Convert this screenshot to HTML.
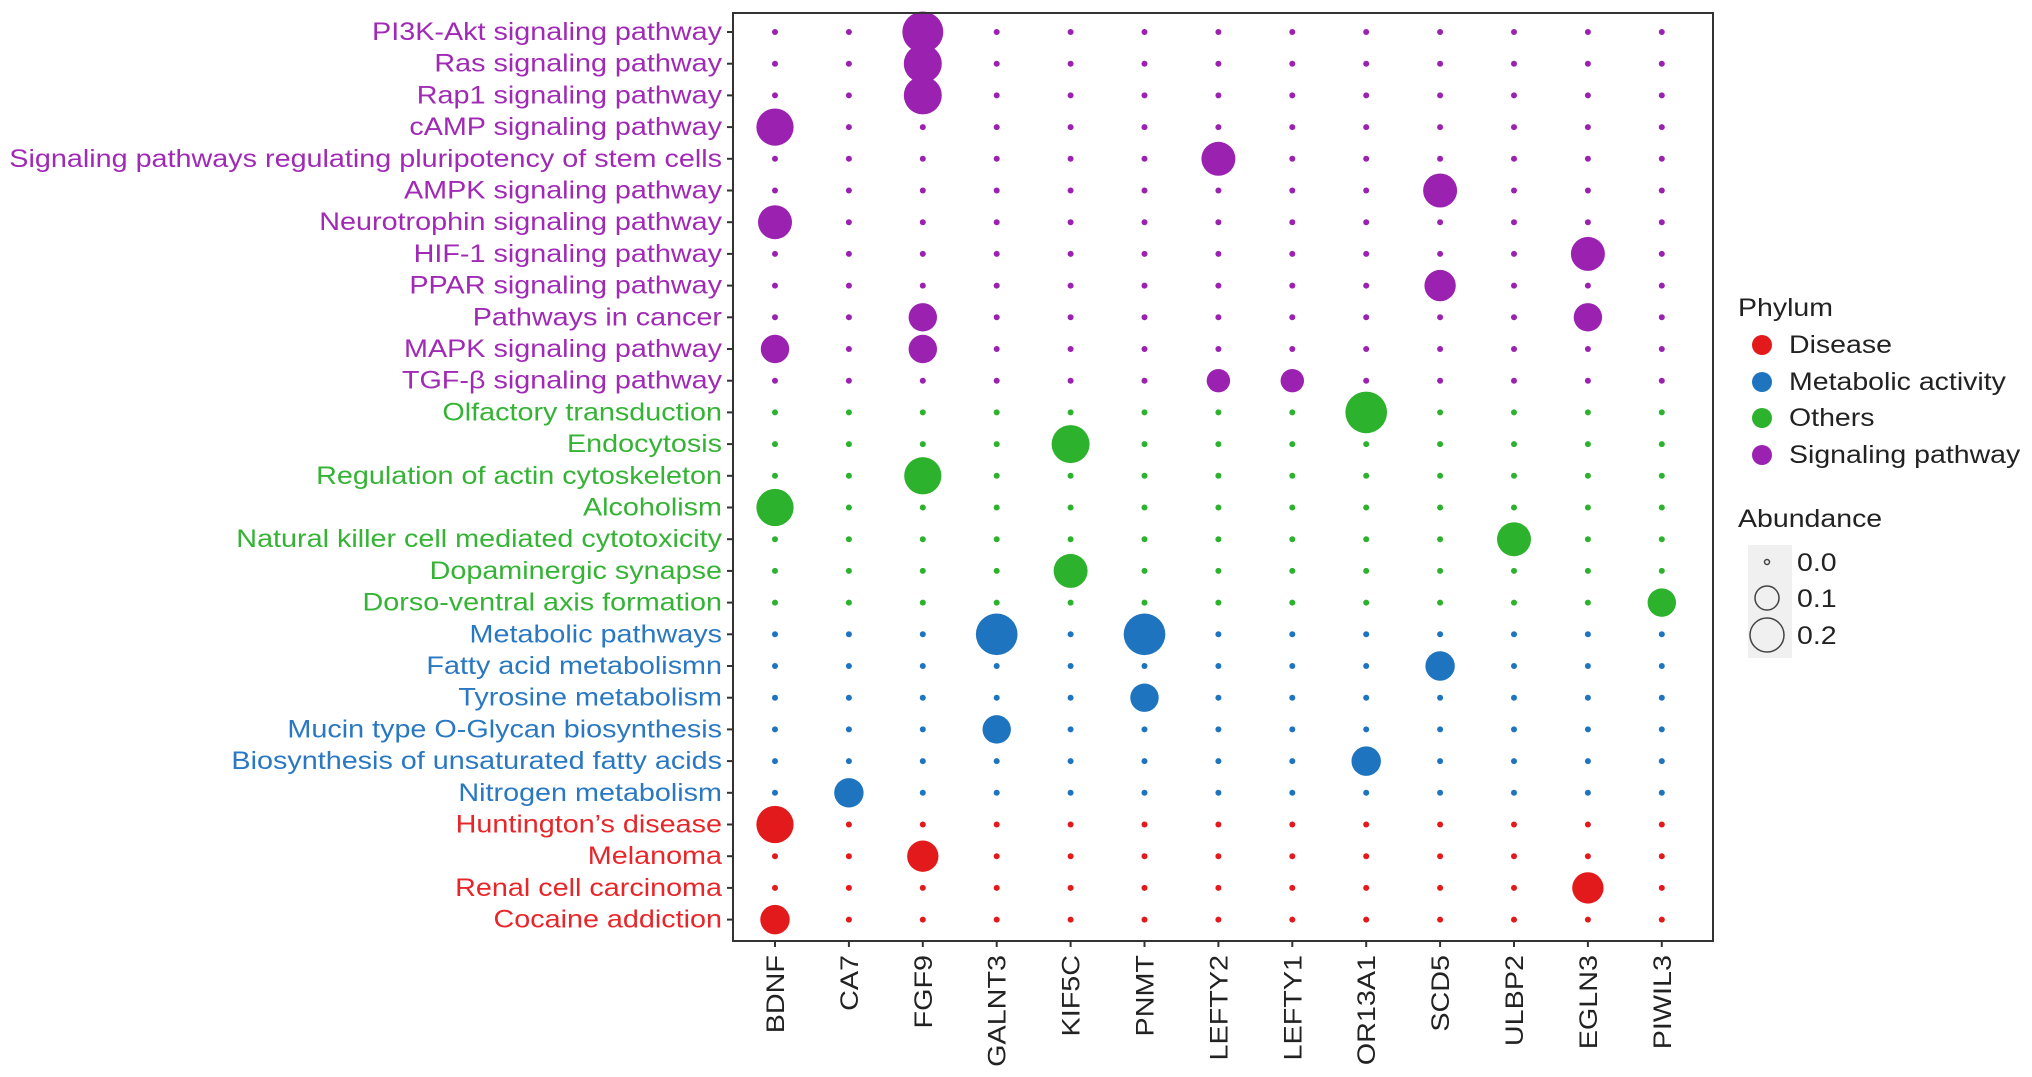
<!DOCTYPE html>
<html><head><meta charset="utf-8"><style>
body{margin:0;background:#fff}
svg{display:block;font-family:"Liberation Sans",sans-serif}
</style></head><body>
<svg id="chart" width="2032" height="1077" viewBox="0 0 2032 1077">
<g id="plot"></g>
<rect x="733" y="13" width="980" height="928" fill="none" stroke="#333" stroke-width="2"/>
<g id="legend" font-size="25" fill="#222">
<text transform="translate(1738,316) scale(1.14,1)">Phylum</text>
<circle cx="1762" cy="345" r="10" fill="#e31a1c"/>
<text transform="translate(1789,353) scale(1.14,1)">Disease</text>
<circle cx="1762" cy="382" r="10" fill="#1f74c0"/>
<text transform="translate(1789,390) scale(1.14,1)">Metabolic activity</text>
<circle cx="1762" cy="418" r="10" fill="#2cb22c"/>
<text transform="translate(1789,426) scale(1.14,1)">Others</text>
<circle cx="1762" cy="455" r="10" fill="#9b22b0"/>
<text transform="translate(1789,463) scale(1.14,1)">Signaling pathway</text>
<text transform="translate(1738,527) scale(1.14,1)">Abundance</text>
<rect x="1748" y="545" width="44" height="113" fill="#f0f0f0"/>
<circle cx="1767" cy="562" r="2.5" fill="none" stroke="#444" stroke-width="1.5"/>
<text transform="translate(1797,571) scale(1.14,1)">0.0</text>
<circle cx="1767" cy="598" r="12" fill="none" stroke="#444" stroke-width="1.5"/>
<text transform="translate(1797,607) scale(1.14,1)">0.1</text>
<circle cx="1767" cy="635" r="17" fill="none" stroke="#444" stroke-width="1.5"/>
<text transform="translate(1797,644) scale(1.14,1)">0.2</text>
</g>
</svg>
<script>
const genes = ["BDNF","CA7","FGF9","GALNT3","KIF5C","PNMT","LEFTY2","LEFTY1","OR13A1","SCD5","ULBP2","EGLN3","PIWIL3"];
const pathways = ["PI3K-Akt signaling pathway","Ras signaling pathway","Rap1 signaling pathway","cAMP signaling pathway","Signaling pathways regulating pluripotency of stem cells","AMPK signaling pathway","Neurotrophin signaling pathway","HIF-1 signaling pathway","PPAR signaling pathway","Pathways in cancer","MAPK signaling pathway","TGF-β signaling pathway","Olfactory transduction","Endocytosis","Regulation of actin cytoskeleton","Alcoholism","Natural killer cell mediated cytotoxicity","Dopaminergic synapse","Dorso-ventral axis formation","Metabolic pathways","Fatty acid metabolismn","Tyrosine metabolism","Mucin type O-Glycan biosynthesis","Biosynthesis of unsaturated fatty acids","Nitrogen metabolism","Huntington’s disease","Melanoma","Renal cell carcinoma","Cocaine addiction"];
const phylum = ["S","S","S","S","S","S","S","S","S","S","S","S","O","O","O","O","O","O","O","M","M","M","M","M","M","D","D","D","D"];
// nonzero abundances: [pathwayIndex, geneIndex, value]
const hits = [[0,2,0.29],[1,2,0.25],[2,2,0.25],[3,0,0.24],[4,6,0.2],[5,9,0.2],[6,0,0.2],[7,11,0.2],[8,9,0.17],[9,2,0.14],[9,11,0.14],[10,0,0.14],[10,2,0.14],[11,6,0.095],[11,7,0.095],[12,8,0.3],[13,4,0.25],[14,2,0.24],[15,0,0.24],[16,10,0.2],[17,4,0.2],[18,12,0.14],[19,3,0.3],[19,5,0.3],[20,9,0.15],[21,5,0.14],[22,3,0.14],[23,8,0.15],[24,1,0.15],[25,0,0.24],[26,2,0.17],[27,11,0.17],[28,0,0.15]];
const colors = {S:"#9b22b0",O:"#2cb22c",M:"#1f74c0",D:"#e31a1c"};
const textColors = {S:"#a02ab5",O:"#35b335",M:"#2a78c2",D:"#e8262a"};
const NS="http://www.w3.org/2000/svg";
const plot=document.getElementById('plot');
const svg=document.getElementById('chart');
const xPos=i=>775+i*73.9;
const yPos=j=>32+j*31.7;
const rad=v=>v<=0?3:Math.max(3,38*Math.sqrt(v));
const vals=pathways.map(()=>genes.map(()=>0));
hits.forEach(h=>{vals[h[0]][h[1]]=h[2];});
pathways.forEach((p,j)=>{
  const t=document.createElementNS(NS,'text');
  t.setAttribute('transform','translate(722,'+(yPos(j)+8)+') scale(1.15,1)');
  t.setAttribute('text-anchor','end');t.setAttribute('font-size','25');
  t.setAttribute('fill',textColors[phylum[j]]);
  t.textContent=p;
  
  
  svg.appendChild(t);
  const tk=document.createElementNS(NS,'line');
  tk.setAttribute('x1',727);tk.setAttribute('x2',733);tk.setAttribute('y1',yPos(j));tk.setAttribute('y2',yPos(j));
  tk.setAttribute('stroke','#333');tk.setAttribute('stroke-width','2');
  
  
  svg.appendChild(tk);
  genes.forEach((g,i)=>{
    const c=document.createElementNS(NS,'circle');
    c.setAttribute('cx',xPos(i));c.setAttribute('cy',yPos(j));
    c.setAttribute('r',rad(vals[j][i]));
    c.setAttribute('fill',colors[phylum[j]]);
    
    
    plot.appendChild(c);
  });
});
genes.forEach((g,i)=>{
  const x=xPos(i);
  const tk=document.createElementNS(NS,'line');
  tk.setAttribute('x1',x);tk.setAttribute('x2',x);tk.setAttribute('y1',941);tk.setAttribute('y2',947);
  tk.setAttribute('stroke','#333');tk.setAttribute('stroke-width','2');
  
  
  svg.appendChild(tk);
  const t=document.createElementNS(NS,'text');
  t.setAttribute('transform','translate('+(x+9)+',955) rotate(-90) scale(1.15,1)');
  t.setAttribute('text-anchor','end');t.setAttribute('font-size','25');t.setAttribute('fill','#222');
  t.textContent=g;
  
  
  svg.appendChild(t);
});
</script>
</body></html>
